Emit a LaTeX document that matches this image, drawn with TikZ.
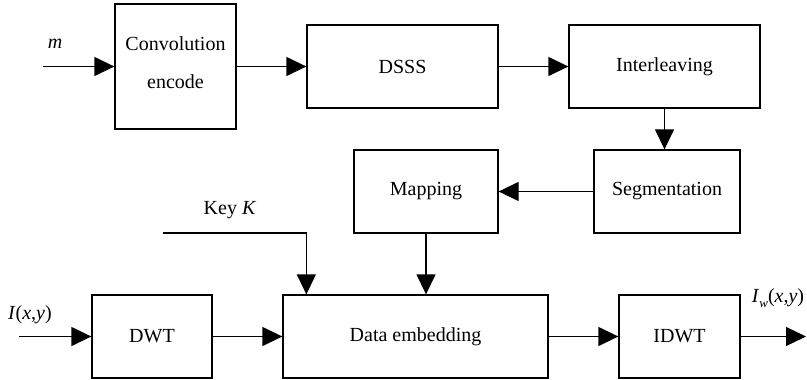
\documentclass[tikz,border=0pt]{standalone}
\usepackage{fontspec}
\setmainfont{Liberation Serif}
\usetikzlibrary{arrows.meta}

\tikzset{
  blk/.style={draw, line width=1.3pt, rectangle, inner sep=0pt, font=\fontsize{20}{24}\selectfont},
  flow/.style={line width=1.3pt, -{Triangle[length=20pt,width=19pt]}},
  wire/.style={line width=1.3pt},
  lbl/.style={inner sep=0pt, font=\fontsize{20}{24}\selectfont}
}

\begin{document}
\begin{tikzpicture}[x=1pt, y=-1pt]
  \useasboundingbox (0,0) rectangle (807,380);

  % upper chain
  \node[blk, minimum width=121pt, minimum height=125pt] (conv) at (175.5,66.5) {};
  \node[lbl] at (175.5,44) {Convolution};
  \node[lbl] at (175.5,82) {encode};
  \node[blk, minimum width=191pt, minimum height=83pt] (dsss) at (402.5,66.5) {DSSS};
  \node[blk, minimum width=191pt, minimum height=83pt] (inter) at (664.5,66.5) {Interleaving};

  % middle row
  \node[blk, minimum width=146pt, minimum height=83pt] (seg) at (667,191.5) {Segmentation};
  \node[blk, minimum width=144pt, minimum height=83pt] (map) at (426,191.5) {Mapping};

  % lower chain
  \node[blk, minimum width=120pt, minimum height=83pt] (dwt) at (152,336.5) {DWT};
  \node[blk, minimum width=265pt, minimum height=83pt] (emb) at (415.5,336.5) {Data embedding};
  \node[blk, minimum width=121pt, minimum height=83pt] (idwt) at (679.5,336.5) {IDWT};

  % free ends
  \coordinate (min) at (43,66.5);
  \coordinate (iin) at (19,336.5);
  \coordinate (iout) at (806,336.5);
  \coordinate (keyin) at (163,233);
  \coordinate (keyend) at ([xshift=24pt]emb.north west);

  % labels
  \node[lbl] at (55,44) {\textit{m}};
  \node[lbl] at (30,315) {\textit{I}(\textit{x},\textit{y})};
  \node[lbl] at (230,210) {Key \textit{K}};
  \node[lbl] at (778,298) {\textit{I}\raisebox{-0.22em}{\fontsize{13}{15}\selectfont\textit{w}}(\textit{x},\textit{y})};

  % connectors
  \draw[flow] (min) -- (conv.west);
  \draw[flow] (conv.east) -- (dsss.west);
  \draw[flow] (dsss.east) -- (inter.west);
  \draw[flow] (inter.south) -- (inter.south |- seg.north);
  \draw[flow] (seg.west) -- (map.east);
  \draw[flow] (map.south) -- (map.south |- emb.north);
  \draw[flow] (keyin) -| (keyend);
  \draw[flow] (iin) -- (dwt.west);
  \draw[flow] (dwt.east) -- (emb.west);
  \draw[flow] (emb.east) -- (idwt.west);
  \draw[flow] (idwt.east) -- (iout);
\end{tikzpicture}
\end{document}
